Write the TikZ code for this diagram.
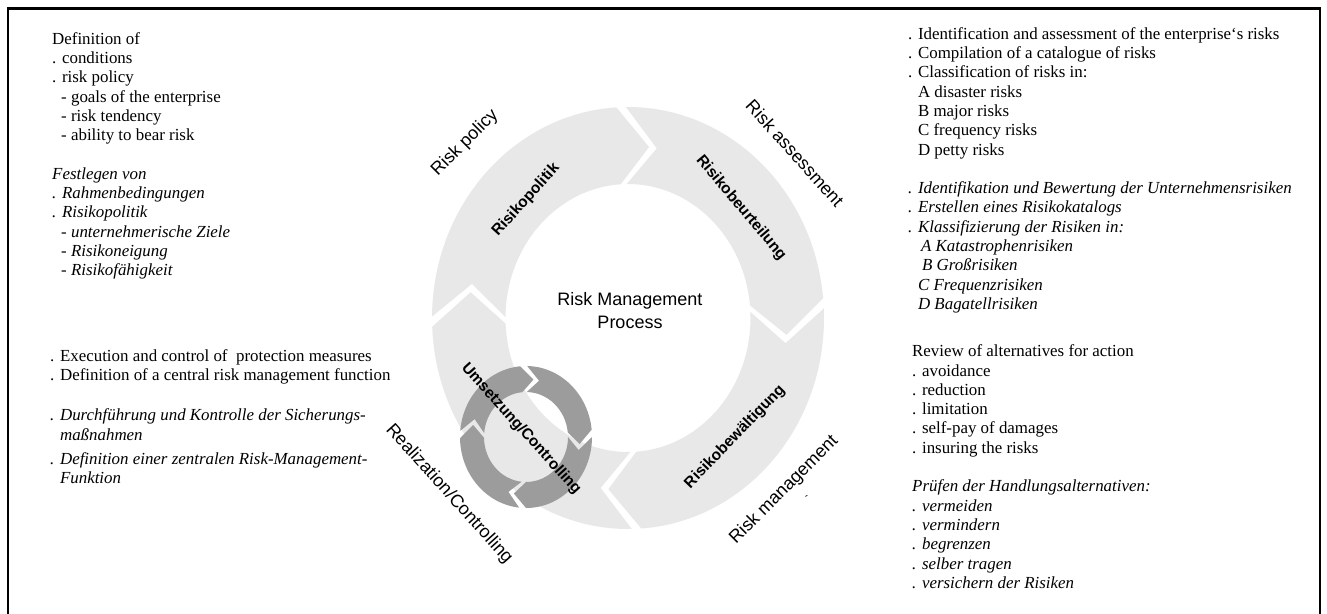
\documentclass[tikz,border=0pt]{standalone}
\usepackage{fontspec}
\setmainfont{Liberation Serif}
\newfontfamily\arialf{Liberation Sans}
\definecolor{ringgray}{HTML}{E8E8E8}
\definecolor{smallgray}{HTML}{9C9C9C}
\newcommand{\ringseg}[3]{%
  \pgfmathsetmacro\sa{#2-\HG}%
  \pgfmathsetmacro\ea{#3+\HG}%
  \pgfmathsetmacro\ta{\ea-\DEL}%
  \pgfmathsetmacro\na{\sa-\DEL}%
  \fill[#1] (\sa:\RXO pt and \RYO pt)
    arc[start angle=\sa, end angle=\ea, x radius=\RXO pt, y radius=\RYO pt]
    -- (\ta:\RXM pt and \RYM pt) -- (\ea:\RXI pt and \RYI pt)
    arc[start angle=\ea, end angle=\sa, x radius=\RXI pt, y radius=\RYI pt]
    -- (\na:\RXM pt and \RYM pt) -- cycle;}
\tikzset{
  body/.style={anchor=north west, align=left, inner sep=0pt,
    font=\fontsize{16.9}{19.3}\selectfont},
  lbl/.style={font=\arialf\fontsize{18}{21}\selectfont, inner sep=0pt},
  blbl/.style={font=\arialf\bfseries\fontsize{15.5}{18}\selectfont, inner sep=0pt},
  frame/.style={line width=2.5pt, black},
}
\begin{document}
\begin{tikzpicture}[x=1pt,y=1pt]
\useasboundingbox (0,0) rectangle (1327,-613);
\fill[white] (0,0) rectangle (1327,-613);
\draw[frame] (8,-625) -- (8,-8.5) -- (1320,-8.5) -- (1320,-625);

% big ring
\begin{scope}[shift={(628,-318)}]
  \def\RXO{196}\def\RYO{211}\def\RXI{122.5}\def\RYI{134}
  \def\RXM{159.25}\def\RYM{172.5}\def\DEL{11}\def\HG{1.4}
  \ringseg{ringgray}{181}{92}
  \ringseg{ringgray}{92}{4}
  \ringseg{ringgray}{4}{-87.5}
  \ringseg{ringgray}{272.5}{181}
\end{scope}
% small ring
\begin{scope}[shift={(526,-437)}]
  \def\RXO{66}\def\RYO{71}\def\RXI{42}\def\RYI{45}
  \def\RXM{54}\def\RYM{58}\def\DEL{13}\def\HG{3}
  \ringseg{smallgray}{178}{92}
  \ringseg{smallgray}{92}{3}
  \ringseg{smallgray}{3}{-93}
  \ringseg{smallgray}{267}{178}
\end{scope}

% ring labels
\node[lbl, rotate=45] (rp) at (465,-143) {Risk policy};
\node[blbl, rotate=48] (rpol) at (526,-200) {Risikopolitik};
\node[blbl, rotate=-50] (rbeu) at (741,-208) {Risikobeurteilung};
\node[lbl, rotate=-48] (ra) at (795,-153) {Risk assessment};
\node[lbl, align=center, font=\arialf\fontsize{18}{23}\selectfont] (rmp) at (630,-311) {Risk Management\\Process};
\node[blbl, rotate=-48] (umc) at (521,-429) {Umsetzung/Controlling};
\node[blbl, rotate=46] (rbew) at (735,-437) {Risikobewältigung};
\node[lbl, rotate=-48] (rc) at (449,-494) {Realization/Controlling};
\node[lbl, rotate=45] (rm) at (784,-490) {Risk management};
\node[lbl, rotate=30, font=\arialf\fontsize{10}{12}\selectfont] (tick) at (807,-497) {-};

% left text blocks
\node[body] (lt) at (52,-30.5) {\strut Definition of\\
. conditions\\
. risk policy\\
\hspace*{9pt}- goals of the enterprise\\
\hspace*{9pt}- risk tendency\\
\hspace*{9pt}- ability to bear risk\\[19.3pt]
\itshape Festlegen von\\
\itshape . Rahmenbedingungen\\
\itshape . Risikopolitik\\
\hspace*{9pt}\itshape - unternehmerische Ziele\\
\hspace*{9pt}\itshape - Risikoneigung\\
\hspace*{9pt}\itshape - Risikofähigkeit};

\node[body] (lb) at (50,-347.5) {\strut . Execution and control of \ protection measures\\
. Definition of a central risk management function\\[21pt]
\itshape . Durchführung und Kontrolle der Sicherungs-\\
\itshape \hphantom{. }maßnahmen\\[5pt]
\itshape . Definition einer zentralen Risk-Management-\\
\itshape \hphantom{. }Funktion};

% right text blocks
\node[body] (rt) at (908,-25.5) {\strut . Identification and assessment of the enterprise`s risks\\
. Compilation of a catalogue of risks\\
. Classification of risks in:\\
\hphantom{. }A disaster risks\\
\hphantom{. }B major risks\\
\hphantom{. }C frequency risks\\
\hphantom{. }D petty risks\\[19.3pt]
\itshape . Identifikation und Bewertung der Unternehmensrisiken\\
\itshape . Erstellen eines Risikokatalogs\\
\itshape . Klassifizierung der Risiken in:\\
\itshape \hphantom{. }\hspace*{3pt}A Katastrophenrisiken\\
\itshape \hphantom{. }\hspace*{4pt}B Großrisiken\\
\itshape \hphantom{. }C Frequenzrisiken\\
\itshape \hphantom{. }D Bagatellrisiken};

\node[body] (rb) at (912,-343) {\strut Review of alternatives for action\\
. avoidance\\
. reduction\\
. limitation\\
. self-pay of damages\\
. insuring the risks\\[19.3pt]
\itshape Prüfen der Handlungsalternativen:\\
\itshape . vermeiden\\
\itshape . vermindern\\
\itshape . begrenzen\\
\itshape . selber tragen\\
\itshape . versichern der Risiken};
\end{tikzpicture}
\end{document}
